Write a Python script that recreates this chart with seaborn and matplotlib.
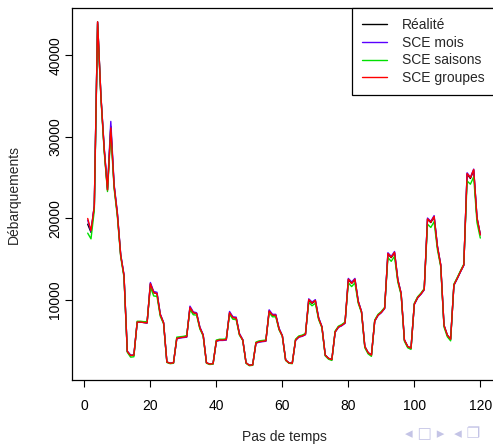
import pandas as pd
import seaborn as sns
import matplotlib
matplotlib.use("Agg")
import matplotlib.pyplot as plt
from matplotlib.lines import Line2D

# monthly landings, 120 time steps
pas = list(range(1, 121))

realite = [19300, 18300, 21500, 44100, 35000, 28500, 23500, 31300, 24000, 20500, 15500, 13000,
           3700, 3200, 3250, 7300, 7300, 7250, 7200, 12000, 10900, 10800, 8200, 7200,
           2400, 2250, 2300, 5300, 5400, 5450, 5500, 9100, 8450, 8350, 6600, 5700,
           2300, 2150, 2200, 5000, 5100, 5100, 5150, 8450, 7850, 7800, 5800, 5100,
           2300, 2000, 2050, 4750, 4900, 4950, 5000, 8650, 8150, 8150, 6450, 5600,
           2650, 2300, 2250, 5100, 5500, 5600, 5800, 10000, 9600, 9900, 7750, 6700,
           3250, 2850, 2700, 6100, 6700, 6900, 7200, 12500, 12050, 12500, 9800, 8550,
           4300, 3550, 3250, 7450, 8150, 8500, 9000, 15650, 15200, 15800, 12450, 10800,
           5100, 4300, 4100, 9500, 10300, 10750, 11300, 19900, 19500, 20200, 16550, 14300,
           6900, 5700, 5200, 11850, 12650, 13500, 14300, 25450, 24900, 25900, 20000, 18000]

sce_mois = [19800, 18400, 21600, 44000, 35100, 28700, 23700, 31900, 24200, 20700, 15600, 13100,
            3750, 3250, 3250, 7250, 7300, 7250, 7200, 12150, 11050, 10950, 8300, 7250,
            2400, 2250, 2300, 5250, 5350, 5400, 5450, 9250, 8550, 8450, 6700, 5750,
            2300, 2150, 2200, 4950, 5050, 5050, 5100, 8600, 7950, 7900, 5900, 5150,
            2300, 2000, 2050, 4700, 4850, 4900, 4950, 8800, 8250, 8250, 6550, 5650,
            2650, 2300, 2250, 5050, 5450, 5550, 5750, 10150, 9750, 10050, 7850, 6750,
            3250, 2850, 2700, 6050, 6650, 6850, 7150, 12650, 12200, 12650, 9900, 8600,
            4300, 3550, 3250, 7400, 8100, 8450, 8950, 15800, 15350, 15950, 12550, 10850,
            5100, 4300, 4100, 9450, 10250, 10700, 11250, 20050, 19650, 20350, 16650, 14350,
            6900, 5700, 5200, 11800, 12600, 13450, 14250, 25600, 25050, 26050, 20100, 18050]

sce_saisons = [18200, 17500, 21000, 43800, 34800, 28200, 23300, 30500, 23700, 20200, 15300, 12800,
               3600, 3000, 3050, 7400, 7400, 7350, 7350, 11600, 10500, 10450, 8000, 7100,
               2350, 2200, 2250, 5450, 5500, 5550, 5650, 8850, 8200, 8150, 6450, 5600,
               2250, 2100, 2150, 5100, 5200, 5200, 5250, 8250, 7650, 7600, 5700, 5050,
               2250, 1950, 2000, 4850, 5000, 5050, 5100, 8450, 7950, 7950, 6350, 5550,
               2600, 2250, 2200, 5200, 5600, 5700, 5900, 9700, 9300, 9600, 7600, 6600,
               3150, 2750, 2600, 6200, 6800, 7000, 7300, 12100, 11650, 12100, 9600, 8450,
               4150, 3400, 3100, 7550, 8250, 8600, 9100, 15200, 14750, 15350, 12200, 10650,
               4950, 4150, 3950, 9600, 10400, 10850, 11400, 19300, 18900, 19600, 16200, 14100,
               6700, 5500, 5000, 11950, 12750, 13600, 14400, 24600, 24200, 25100, 19500, 17600]

sce_groupes = [20000, 18500, 21500, 44100, 35000, 28500, 23500, 31100, 24000, 20500, 15500, 13000,
               3700, 3200, 3250, 7300, 7300, 7250, 7200, 12000, 10900, 10800, 8200, 7200,
               2400, 2250, 2300, 5300, 5400, 5450, 5500, 9100, 8450, 8350, 6600, 5700,
               2300, 2150, 2200, 5000, 5100, 5100, 5150, 8450, 7850, 7800, 5800, 5100,
               2300, 2000, 2050, 4750, 4900, 4950, 5000, 8650, 8150, 8150, 6450, 5600,
               2650, 2300, 2250, 5100, 5500, 5600, 5800, 10050, 9650, 9950, 7750, 6700,
               3250, 2850, 2700, 6100, 6700, 6900, 7200, 12550, 12050, 12550, 9800, 8550,
               4300, 3550, 3250, 7450, 8150, 8500, 9000, 15700, 15250, 15850, 12450, 10800,
               5100, 4300, 4100, 9500, 10300, 10750, 11300, 19950, 19550, 20250, 16550, 14300,
               6900, 5700, 5200, 11850, 12650, 13500, 14300, 25500, 25000, 26000, 20100, 18000]

noms = ["Réalité", "SCE mois", "SCE saisons", "SCE groupes"]
couleurs = ["black", "#5a00ff", "#00e000", "#ff0000"]

df = pd.concat([
    pd.DataFrame({"pas": pas, "deb": serie, "serie": nom})
    for nom, serie in zip(noms, [realite, sce_mois, sce_saisons, sce_groupes])
])

sns.set_style("white")
plt.rcParams["font.family"] = ["Liberation Sans", "DejaVu Sans"]

fig = plt.figure(figsize=(4.93, 4.46), dpi=100)
ax = fig.add_axes([72 / 493, 66 / 446, 424 / 493, 372 / 446])

sns.lineplot(data=df, x="pas", y="deb", hue="serie", hue_order=noms,
             palette=couleurs, linewidth=1.0, ax=ax, legend=False)

ax.set_xlim(-3.76, 124.76)
ax.set_ylim(200, 45800)
ax.set_xticks([0, 20, 40, 60, 80, 100, 120])
ax.set_yticks([10000, 20000, 30000, 40000])
ax.set_yticklabels(["10000", "20000", "30000", "40000"], rotation=90, va="center")
ax.tick_params(axis="both", direction="out", length=5, width=0.8, color="black",
               labelsize=10, labelcolor="black", left=True, bottom=True)
ax.tick_params(axis="x", pad=9)
ax.tick_params(axis="y", pad=2)
for s in ax.spines.values():
    s.set_color("black")
    s.set_linewidth(0.9)

ax.set_xlabel("Pas de temps", fontsize=10, labelpad=12)
ax.set_ylabel("Débarquements", fontsize=10, labelpad=20)

handles = [Line2D([], [], color=c, linewidth=1.0) for c in couleurs]
leg = ax.legend(handles, noms, loc="upper left", bbox_to_anchor=(0.66, 1.0),
                borderaxespad=0, fancybox=False, frameon=True, fontsize=10,
                handlelength=1.8, handletextpad=1.1, labelspacing=0.27,
                borderpad=0.72)
leg.get_frame().set_edgecolor("black")
leg.get_frame().set_linewidth(0.9)
leg.get_frame().set_alpha(1)

# beamer navigation symbols
fig.text(0.822, 0.018, "◂ □ ▸  ◂ ❐", fontsize=11, color="#c4c4e6",
         family=["DejaVu Sans"])

fig.savefig("out.png", dpi=100)
